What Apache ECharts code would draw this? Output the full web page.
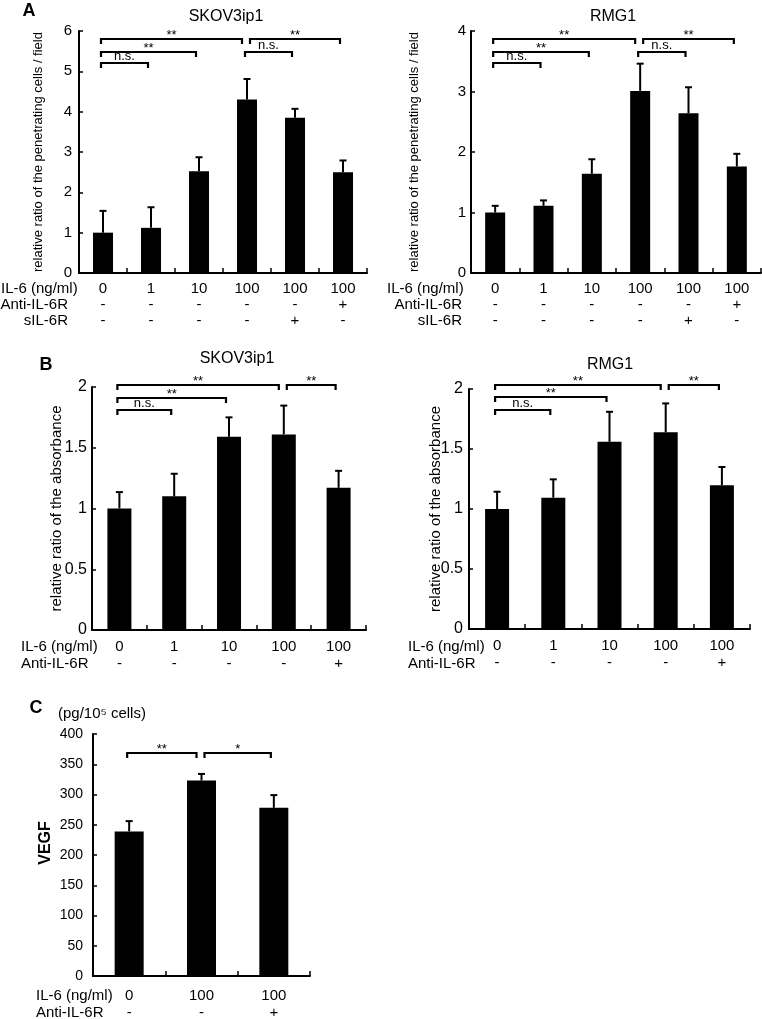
<!DOCTYPE html>
<html><head><meta charset="utf-8">
<script src="https://cdn.jsdelivr.net/npm/echarts@6/dist/echarts.min.js"></script>
<style>html,body{margin:0;padding:0;background:#fff}#c{width:762px;height:1019px}</style>
</head><body><div id="c"></div>
<script>
// ---------- DATA ----------
const catsA = ['0', '1', '10', '100', '100', '100'];
const antiA = ['-', '-', '-', '-', '-', '+'];
const silA = ['-', '-', '-', '-', '+', '-'];
const skovA = [1.0, 1.12, 2.52, 4.30, 3.85, 2.50];
const skovAErr = [0.54, 0.51, 0.35, 0.51, 0.22, 0.29];
const rmgA = [1.0, 1.11, 1.64, 3.01, 2.64, 1.76];
const rmgAErr = [0.11, 0.09, 0.24, 0.45, 0.43, 0.21];

const catsB = ['0', '1', '10', '100', '100'];
const antiB = ['-', '-', '-', '-', '+'];
const skovB = [1.0, 1.10, 1.59, 1.61, 1.17];
const skovBErr = [0.135, 0.186, 0.16, 0.237, 0.14];
const rmgB = [1.0, 1.094, 1.56, 1.64, 1.197];
const rmgBErr = [0.144, 0.153, 0.25, 0.24, 0.153];

const catsC = ['0', '100', '100'];
const antiC = ['-', '-', '+'];
const vegf = [239, 323, 278];
const vegfErr = [17, 11, 21];

// brackets: [fromIndex, toIndex, yValue, label]
const bracketsAL = [[0, 3, 5.79, '**'], [3, 5, 5.79, '**'], [0, 2, 5.48, '**'], [0, 1, 5.20, 'n.s.'], [3, 4, 5.48, 'n.s.']];
const bracketsAR = [[0, 3, 3.86, '**'], [3, 5, 3.86, '**'], [0, 2, 3.66, '**'], [0, 1, 3.47, 'n.s.'], [3, 4, 3.66, 'n.s.']];
const bracketsBL = [[0, 3, 2.02, '**'], [3, 4, 2.02, '**'], [0, 2, 1.91, '**'], [0, 1, 1.81, 'n.s.']];
const bracketsBR = [[0, 3, 2.03, '**'], [3, 4, 2.03, '**'], [0, 2, 1.93, '**'], [0, 1, 1.825, 'n.s.']];
const bracketsC = [[0, 1, 368, '**'], [1, 2, 368, '*']];

// ---------- CHART ----------
const FONT = 'Liberation Sans, Arial, sans-serif';
const chart = echarts.init(document.getElementById('c'), null, {renderer: 'canvas'});

const panels = [
  {grid: {left: 79, width: 288, top: 31, height: 242}, rows: [catsA, antiA, silA], vals: skovA, errs: skovAErr, br: bracketsAL,
   max: 6, interval: 1, name: 'relative ratio of the penetrating cells / field', nameSize: 13, nameGap: 34,
   tickSize: 15, tickMargin: 7, catSize: 15, lh: 16, catMargin: 8, barW: 20},
  {grid: {left: 471, width: 290, top: 31, height: 242}, rows: [catsA, antiA, silA], vals: rmgA, errs: rmgAErr, br: bracketsAR,
   max: 4, interval: 1, name: 'relative ratio of the penetrating cells / field', nameSize: 13, nameGap: 50,
   tickSize: 15, tickMargin: 5, catSize: 15, lh: 16, catMargin: 8, barW: 20},
  {grid: {left: 92, width: 274, top: 387, height: 243}, rows: [catsB, antiB], vals: skovB, errs: skovBErr, br: bracketsBL,
   max: 2, interval: 0.5, name: 'relative ratio of the absorbance', nameSize: 15, nameGap: 28,
   tickSize: 16, tickMargin: 5, catSize: 15, lh: 17, catMargin: 8.5, barW: 24},
  {grid: {left: 469, width: 281, top: 389, height: 240}, rows: [catsB, antiB], vals: rmgB, errs: rmgBErr, br: bracketsBR,
   max: 2, interval: 0.5, name: 'relative ratio of the absorbance', nameSize: 15, nameGap: 26,
   tickSize: 16, tickMargin: 6, catSize: 15, lh: 17, catMargin: 8.5, barW: 24},
  {grid: {left: 93, width: 217, top: 734, height: 242}, rows: [catsC, antiC], vals: vegf, errs: vegfErr, br: bracketsC,
   max: 400, interval: 50, name: '', nameSize: 16, nameGap: 39,
   tickSize: 14, tickMargin: 10, catSize: 15, lh: 17, catMargin: 11.5, barW: 29}
];

const option = {animation: false, backgroundColor: '#fff', grid: [], xAxis: [], yAxis: [], series: [], graphic: []};

panels.forEach((p, k) => {
  option.grid.push(Object.assign({outerBoundsMode: 'none', containLabel: false}, p.grid));
  const rows = p.rows;
  option.xAxis.push({
    type: 'category', gridIndex: k, data: rows[0],
    axisLine: {lineStyle: {color: '#000', width: 2}},
    axisTick: {show: true, inside: true, length: 5, alignWithLabel: false, lineStyle: {color: '#000', width: 1.5}},
    axisLabel: {
      interval: 0, margin: p.catMargin, color: '#000', fontFamily: FONT, fontSize: p.catSize, lineHeight: p.lh,
      formatter: (v, i) => rows.map(r => r[i]).join('\n')
    }
  });
  option.yAxis.push({
    type: 'value', gridIndex: k, min: 0, max: p.max, interval: p.interval,
    name: p.name, nameLocation: 'middle', nameGap: p.nameGap, nameRotate: 90, nameMoveOverlap: false,
    nameTextStyle: {color: '#000', fontFamily: FONT, fontSize: p.nameSize},
    splitLine: {show: false},
    axisLine: {show: true, lineStyle: {color: '#000', width: 2}},
    axisTick: {show: true, inside: true, length: 4, lineStyle: {color: '#000', width: 1.5}},
    axisLabel: {color: '#000', fontFamily: FONT, fontSize: p.tickSize, margin: p.tickMargin}
  });
  option.series.push({
    type: 'bar', xAxisIndex: k, yAxisIndex: k, data: p.vals, barWidth: p.barW,
    itemStyle: {color: '#000'}, z: 3
  });
  option.series.push({
    type: 'custom', xAxisIndex: k, yAxisIndex: k, z: 2,
    data: p.vals.map((v, i) => [i, v, v + p.errs[i]]),
    encode: {x: 0, y: [1, 2]},
    renderItem: (params, api) => {
      const i = api.value(0);
      const b = api.coord([i, api.value(1)]);
      const t = api.coord([i, api.value(2)]);
      const w = 3.5;
      return {type: 'group', children: [
        {type: 'line', shape: {x1: t[0], y1: b[1], x2: t[0], y2: t[1]}, style: {stroke: '#000', lineWidth: 2}},
        {type: 'line', shape: {x1: t[0] - w, y1: t[1], x2: t[0] + w, y2: t[1]}, style: {stroke: '#000', lineWidth: 2}}
      ]};
    }
  });
  const br = p.br;
  option.series.push({
    type: 'custom', xAxisIndex: k, yAxisIndex: k, z: 4, clip: false,
    data: br.map(b => [b[0], b[1], b[2]]),
    encode: {x: [0, 1], y: 2},
    renderItem: (params, api) => {
      const d = br[params.dataIndex];
      const p1 = api.coord([d[0], d[2]]);
      const p2 = api.coord([d[1], d[2]]);
      let x1 = p1[0] - 2, x2 = p2[0] - 3;
      const y = Math.round(p1[1]);
      if (br.some(o => o !== d && o[0] === d[1] && o[2] === d[2])) x2 -= 2;
      if (br.some(o => o !== d && o[1] === d[0] && o[2] === d[2])) x1 += 5;
      const isNs = d[3] === 'n.s.';
      return {type: 'group', children: [
        {type: 'polyline', shape: {points: [[x1, y + 5], [x1, y], [x2, y], [x2, y + 5]]},
         style: {stroke: '#000', lineWidth: 2.2, fill: null}},
        {type: 'text', x: (x1 + x2) / 2, y: y + (isNs ? 0 : 3),
         style: {text: d[3], fill: '#000', fontFamily: FONT, fontSize: 13,
                 align: 'center', verticalAlign: 'bottom', textAlign: 'center', textVerticalAlign: 'bottom'}}
      ]};
    }
  });
});

function txt(text, x, y, size, align, bold, rot) {
  return {type: 'text', x: x, y: y, silent: true, rotation: rot || 0,
    style: {text: text, fill: '#000', fontFamily: FONT, fontSize: size, fontWeight: bold ? 'bold' : 'normal',
            align: align, verticalAlign: 'middle', textAlign: align, textVerticalAlign: 'middle'}};
}
option.graphic = [
  txt('A', 29, 11, 18, 'center', true),
  txt('SKOV3ip1', 226, 17, 16, 'center'),
  txt('RMG1', 613, 17, 16, 'center'),
  txt('IL-6 (ng/ml)', 1, 289, 15, 'left'),
  txt('Anti-IL-6R', 68, 305, 15, 'right'),
  txt('sIL-6R', 68, 321, 15, 'right'),
  txt('IL-6 (ng/ml)', 387, 289, 15, 'left'),
  txt('Anti-IL-6R', 462, 305, 15, 'right'),
  txt('sIL-6R', 462, 321, 15, 'right'),
  txt('B', 46, 365, 18, 'center', true),
  txt('SKOV3ip1', 237, 359, 16, 'center'),
  txt('RMG1', 610, 365, 16, 'center'),
  txt('IL-6 (ng/ml)', 21, 647, 15, 'left'),
  txt('Anti-IL-6R', 21, 664, 15, 'left'),
  txt('IL-6 (ng/ml)', 408, 647, 15, 'left'),
  txt('Anti-IL-6R', 408, 664, 15, 'left'),
  txt('C', 36, 708, 18, 'center', true),
  txt('(pg/10\u2075 cells)', 58, 714, 15, 'left'),
  txt('VEGF', 46, 843, 16, 'center', true, Math.PI / 2),
  txt('IL-6 (ng/ml)', 36, 996, 15, 'left'),
  txt('Anti-IL-6R', 36, 1013, 15, 'left')
];

chart.setOption(option);
</script>
</body></html>
